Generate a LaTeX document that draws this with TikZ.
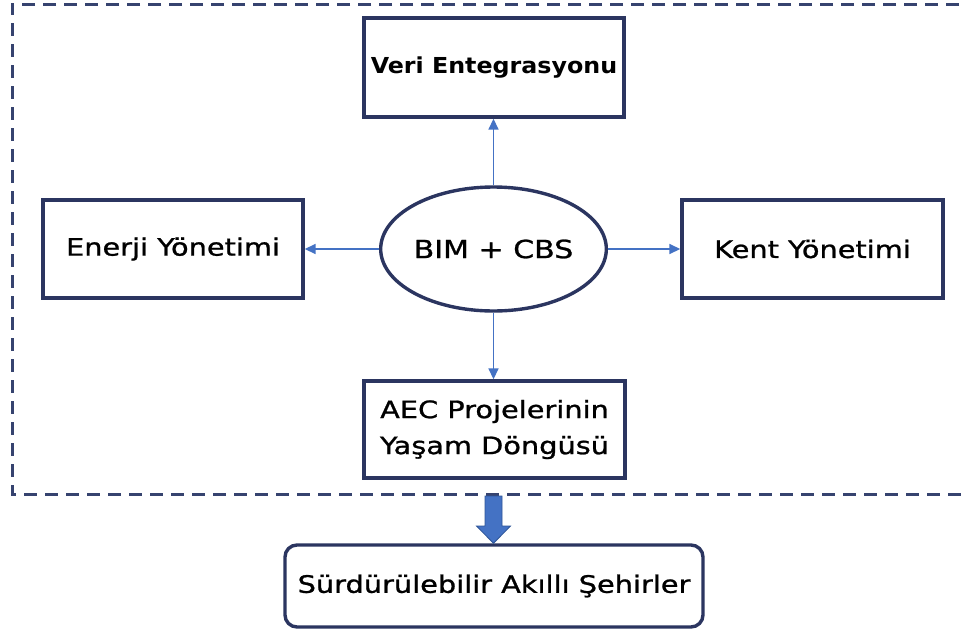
\documentclass[tikz,border=0pt]{standalone}
\usepackage{fontspec}
\newfontfamily\vfont[FakeStretch=1.2,FakeBold=1]{DejaVu Sans}
\newfontfamily\vbfont[FakeStretch=1.08]{DejaVu Sans Bold}
\usetikzlibrary{shapes.geometric,arrows.meta,calc}
\definecolor{navy}{HTML}{2B3560}
\definecolor{dashnavy}{HTML}{36436F}
\definecolor{linkblue}{HTML}{4472C4}
\definecolor{arrowedge}{HTML}{2F5597}
\begin{document}
\begin{tikzpicture}[x=1pt,y=-1pt,
  box/.style={draw=navy,line width=3.4pt,rectangle,inner sep=0pt,align=center,
    font=\vfont\fontsize{24}{36}\selectfont},
  link/.style={draw=linkblue,line width=1.6pt,-{Triangle[length=11pt,width=10pt]}}]
\useasboundingbox (0,0) rectangle (966,632);
\fill[white] (0,0) rectangle (966,632);
% dashed frame
\draw[dashnavy,line width=3pt,dash pattern=on 13pt off 8pt] (980,4) -- (12,4) -- (12,494) -- (980,494);
% nodes
\node[box,minimum width=260pt,minimum height=99pt,font=\vbfont\fontsize{22}{24}\selectfont] (veri) at (494,67.5) {Veri Entegrasyonu};
\node[box,minimum width=260pt,minimum height=98pt] (enerji) at (173,249) {Enerji Yönetimi};
\node[box,minimum width=261pt,minimum height=98pt] (kent) at (812.5,249) {Kent Yönetimi};
\node[box,ellipse,minimum width=217pt,minimum height=124pt,font=\vfont\fontsize{25}{28}\selectfont] (bim) at (493.5,249) {BIM + CBS};
\node[box,minimum width=261pt,minimum height=97pt] (aec) at (494.5,429.5) {AEC Projelerinin\\Yaşam Döngüsü};
\node[box,rounded corners=12pt,minimum width=418pt,minimum height=82pt] (sas) at (494,586) {Sürdürülebilir Akıllı Şehirler};
% connectors
\draw[link] (bim.north) -- (bim.north |- veri.south);
\draw[link] (bim.west) -- (enerji.east);
\draw[link] (bim.east) -- (kent.west);
\draw[link] (bim.south) -- (bim.south |- aec.north);
% block arrow
\coordinate (ba) at (493.5,496);
\draw[fill=linkblue,draw=arrowedge,line width=0.8pt]
  ($(ba)+(-8.5,0)$) -- ($(ba)+(8.5,0)$) -- ($(ba)+(8.5,30)$) -- ($(ba)+(17,30)$)
  -- (ba |- sas.north) -- ($(ba)+(-17,30)$) -- ($(ba)+(-8.5,30)$) -- cycle;
\end{tikzpicture}
\end{document}
